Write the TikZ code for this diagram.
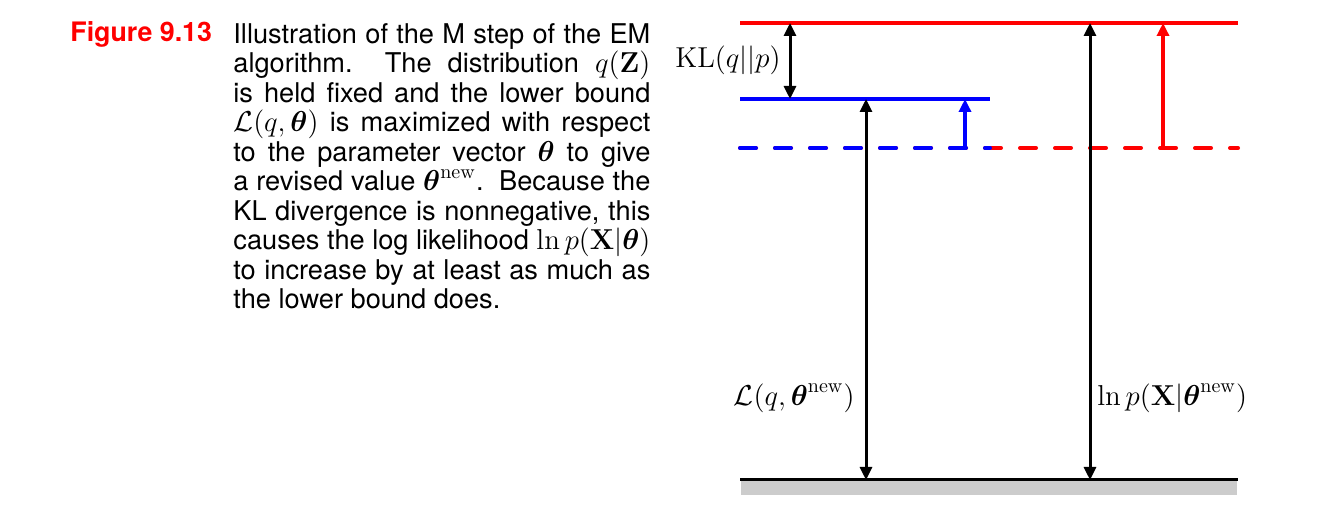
\documentclass[tikz,border=0pt]{standalone}
\usepackage{amsmath,amssymb}
\usepackage[no-math]{fontspec}
\setmainfont{TeX Gyre Heros}
\usetikzlibrary{arrows.meta,positioning}

\begin{document}
\begin{tikzpicture}[x=0.5pt,y=-0.5pt,
  lvl/.style={line width=2pt,draw=#1},
  dlvl/.style={line width=2pt,draw=#1,dash pattern=on 8pt off 9.5pt,line cap=round},
  gap/.style={{Triangle[length=6.5pt,width=6pt]}-{Triangle[length=6.5pt,width=6pt]},line width=1.5pt},
  rise/.style={-{Triangle[length=6.5pt,width=6pt]},line width=2pt,draw=#1},
  lbl/.style={font=\fontsize{14}{15}\selectfont,inner sep=2pt}]
\useasboundingbox (0,0) rectangle (1331,522);
% caption
\node[anchor=base west,inner sep=0,text=red,font=\fontsize{13.4}{14.75}\selectfont\bfseries](fig) at (70,42){Figure 9.13};
\node[anchor=north west,inner sep=0,text width=208.5pt,align=justify,font=\fontsize{13.6}{14.75}\selectfont](cap) at (233,23){\hyphenpenalty=10000 Illustration of the M step of the EM\linebreak algorithm.\ \ The distribution $q(\mathbf{Z})$\linebreak is held fixed and the lower bound\linebreak $\mathcal{L}(q,\boldsymbol{\theta})$ is maximized with respect\linebreak to the parameter vector $\boldsymbol{\theta}$ to give\linebreak a revised value $\boldsymbol{\theta}^{\mathrm{new}}$.\ \ Because the\linebreak KL divergence is nonnegative, this\linebreak causes the log likelihood $\ln p(\mathbf{X}|\boldsymbol{\theta})$\linebreak to increase by at least as much as\linebreak the lower bound does.};
% levels
\coordinate (lnL) at (740,23);\coordinate (lnR) at (1238,23);
\coordinate (bL) at (740,99);\coordinate (bR) at (990,99);
\coordinate (oL) at (740,148);\coordinate (oM) at (990,148);\coordinate (oR) at (1238,148);
\coordinate (zL) at (740,480);\coordinate (zR) at (1238,480);
\fill[gray!40] (741,480) rectangle (1237,495);
\draw[lvl=black,line width=1.5pt](zL)--(zR);
\draw[dlvl=red](oL)--(oR);\draw[dlvl=blue](oL)--(oM);
\draw[lvl=blue](bL)--(bR);\draw[lvl=red](lnL)--(lnR);
% arrows
\coordinate (kl1) at (790,23);\coordinate (kl2) at (790,99);
\coordinate (Lt) at (866,99);\coordinate (Lb) at (866,480);
\coordinate (pt) at (1090,23);\coordinate (pb) at (1090,480);
\coordinate (ba) at (965,148);\coordinate (bt) at (965,99);
\coordinate (ra) at (1163,148);\coordinate (rt) at (1163,23);
\draw[gap](kl1)--(kl2);\draw[gap](Lt)--(Lb);\draw[gap](pt)--(pb);
\draw[rise=blue](ba)--(bt);\draw[rise=red](ra)--(rt);
\node[lbl,anchor=east](kl) at (785,60){$\mathrm{KL}(q||p)$};
\node[lbl,anchor=east](lb) at (859,398){$\mathcal{L}(q,\boldsymbol{\theta}^{\mathrm{new}})$};
\node[lbl,anchor=west](ll) at (1093,398){$\ln p(\mathbf{X}|\boldsymbol{\theta}^{\mathrm{new}})$};
\end{tikzpicture}
\end{document}
